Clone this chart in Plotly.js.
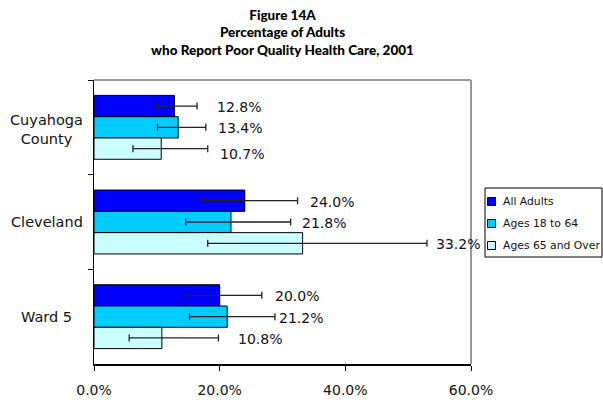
<!DOCTYPE html>
<html>
<head>
<meta charset="utf-8">
<script src="https://cdn.plot.ly/plotly-3.0.1.min.js"></script>
<style>html,body{margin:0;padding:0;background:#fff}#chart{width:603px;height:402px}</style>
</head>
<body>
<div id="chart"></div>
<script>
var categories = ["Cuyahoga County", "Cleveland", "Ward 5"];
var categoryLabels = ["Cuyahoga<br>County", "Cleveland", "Ward 5"];
var seriesNames = ["All Adults", "Ages 18 to 64", "Ages 65 and Over"];
var allAdults = [12.8, 24.0, 20.0];
var ages18to64 = [13.4, 21.8, 21.2];
var ages65over = [10.7, 33.2, 10.8];
var allAdultsErrPlus = [3.6, 8.4, 6.7];
var allAdultsErrMinus = [2.8, 6.8, 5.4];
var ages18to64ErrPlus = [4.4, 9.5, 7.6];
var ages18to64ErrMinus = [3.3, 7.2, 6.0];
var ages65overErrPlus = [7.4, 19.8, 9.0];
var ages65overErrMinus = [4.5, 15.1, 5.2];
var xTickVals = [0, 20, 40, 60];
var xTickText = ["0.0%", "20.0%", "40.0%", "60.0%"];

var colors = ["#0000FF", "#00CCFF", "#CCFFFF"];
var values = [allAdults, ages18to64, ages65over];
var errP = [allAdultsErrPlus, ages18to64ErrPlus, ages65overErrPlus];
var errM = [allAdultsErrMinus, ages18to64ErrMinus, ages65overErrMinus];
var FONT = "DejaVu Sans, sans-serif";

var traces = values.map(function (v, i) {
  return {
    type: "bar", orientation: "h", name: seriesNames[i],
    y: categories, x: v,
    marker: {color: colors[i], line: {color: "#000", width: 1}},
    error_x: {type: "data", symmetric: false, array: errP[i], arrayminus: errM[i],
              color: "#222", thickness: 1.3, width: 3.5},
    showlegend: false, hoverinfo: "x"
  };
});

var annotations = [];
var yShift = [[0, 0, -4], [0, 0, 0], [0, 0, 0]];
var extra = [[10, 2, 3], [2, 1, -6], [2, -1, 10]];
values.forEach(function (v, i) {
  v.forEach(function (val, j) {
    annotations.push({
      x: val + errP[i][j], y: categories[j], xref: "x", yref: "y",
      text: val.toFixed(1) + "%", showarrow: false, xanchor: "left",
      xshift: 8 + extra[i][j], yshift: (1 - i) * 21.3 + yShift[j][i] - 1,
      font: {family: FONT, size: 14, color: "#111"}
    });
  });
});
categories.forEach(function (c, j) {
  annotations.push({
    x: -0.125, xref: "paper", y: c, yref: "y", text: categoryLabels[j],
    showarrow: false, xanchor: "center", align: "center",
    font: {family: FONT, size: 14.5, color: "#111"}, yshift: j === 0 ? -2 : 0
  });
});
var shapes = [
  {type: "line", xref: "paper", yref: "paper", x0: 0, x1: 1, y0: 1, y1: 1, line: {color: "#999", width: 2}},
  {type: "line", xref: "paper", yref: "paper", x0: 1, x1: 1, y0: 0, y1: 1, line: {color: "#999", width: 2}},
  {type: "rect", xref: "paper", yref: "paper", x0: (485 - 94) / 377, x1: (602 - 94) / 377,
   y0: (364 - 257) / 284, y1: (364 - 188) / 284, line: {color: "#000", width: 1}, fillcolor: "#fff"}
];
seriesNames.forEach(function (n, i) {
  var yc = 201.5 + i * 22;
  shapes.push({type: "rect", xref: "paper", yref: "paper",
    x0: (487.5 - 94) / 377, x1: (495.5 - 94) / 377,
    y0: (364 - yc - 4) / 284, y1: (364 - yc + 4) / 284,
    fillcolor: colors[i], line: {color: "#000", width: 1}});
  annotations.push({x: (501 - 94) / 377, y: (364 - yc) / 284, xref: "paper", yref: "paper",
    text: n, showarrow: false, xanchor: "left", yanchor: "middle",
    font: {family: FONT, size: 10.8, color: "#111"}});
});

var layout = {
  width: 603, height: 402,
  margin: {l: 94, r: 132, t: 80, b: 38, pad: 0},
  paper_bgcolor: "#fff", plot_bgcolor: "#fff",
  title: {text: "Figure 14A<br>Percentage of Adults<br>who Report Poor Quality Health Care, 2001",
          font: {family: "Lato, sans-serif", size: 13.5, color: "#000", weight: 900},
          xref: "paper", x: 0.5, xanchor: "center",
          yref: "container", y: 0.951, yanchor: "top"},
  barmode: "group", bargap: 0.325, bargroupgap: 0,
  xaxis: {range: [0, 60], tickmode: "array", tickvals: xTickVals, ticktext: xTickText,
          showgrid: false, zeroline: false, showline: true, linecolor: "#000", linewidth: 1.5,
          ticks: "outside", ticklen: 5, tickcolor: "#000", ticklabelstandoff: 8,
          tickfont: {family: FONT, size: 14, color: "#111"}, fixedrange: true},
  yaxis: {type: "category", categoryorder: "array", categoryarray: categories, autorange: "reversed",
          showticklabels: false, tickson: "boundaries", ticks: "outside", ticklen: 5, tickcolor: "#000",
          showline: true, linecolor: "#000", linewidth: 1.5, showgrid: false, zeroline: false, fixedrange: true},
  annotations: annotations, shapes: shapes, showlegend: false
};
Plotly.newPlot("chart", traces, layout, {displayModeBar: false, staticPlot: true});
</script>
</body>
</html>
